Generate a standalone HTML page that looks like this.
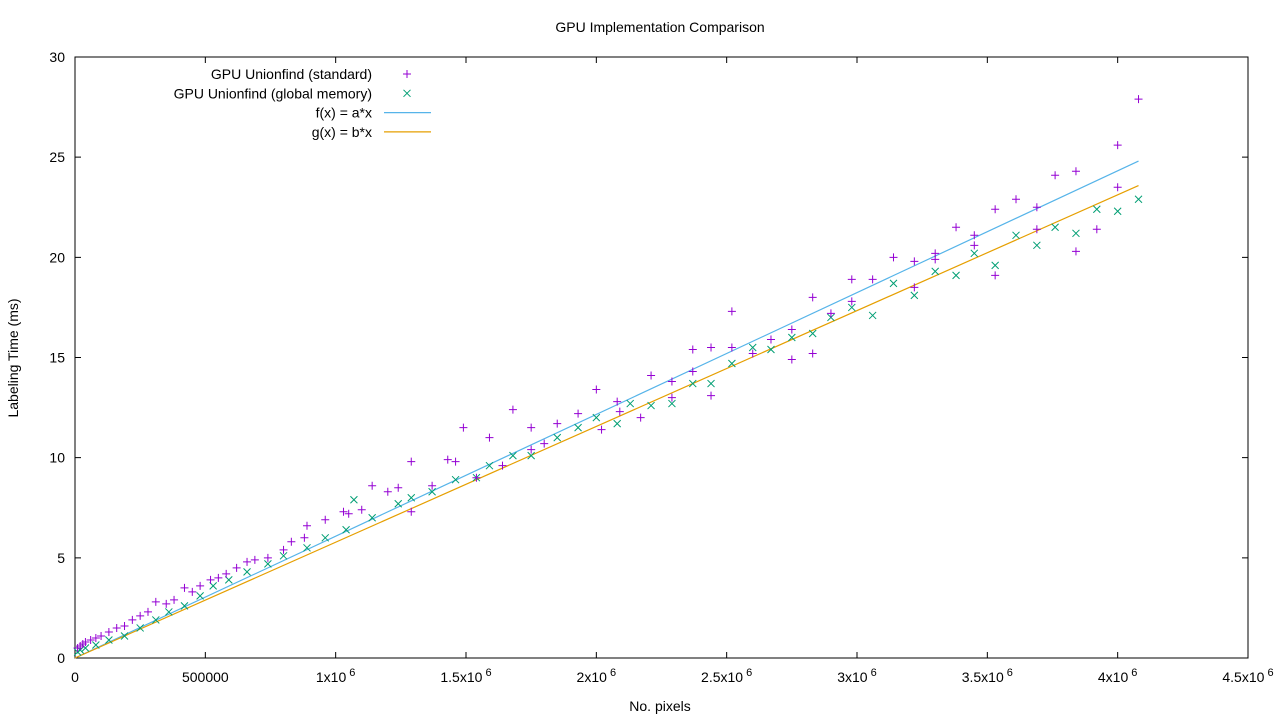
<!DOCTYPE html>
<html><head><meta charset="utf-8"><style>
body{margin:0;background:#fff}
svg{display:block;font-family:"Liberation Sans",Arial,sans-serif;font-size:14px}
</style></head><body>
<svg id="chart" width="1280" height="720" viewBox="0 0 1280 720">
<rect width="1280" height="720" fill="#fff"/>
<text x="660" y="32" text-anchor="middle">GPU Implementation Comparison</text>
<text transform="translate(18,358) rotate(-90)" text-anchor="middle">Labeling Time (ms)</text>
<text x="660" y="711" text-anchor="middle">No. pixels</text>
<g id="axes"></g>
<g id="marks"></g>
<g id="legend"></g>
</svg>
<script>
const xTicks=[0,0.5,1,1.5,2,2.5,3,3.5,4,4.5];
const xTickLabels=["0","500000","1x10","1.5x10","2x10","2.5x10","3x10","3.5x10","4x10","4.5x10"];
const yTicks=[0,5,10,15,20,25,30];
const yTickLabels=["0","5","10","15","20","25","30"];
// x in millions of pixels, y in ms
const stdX=[4.08,4.00,4.00,3.92,3.84,3.84,3.76,3.69,3.69,3.61,3.53,3.53,3.45,3.45,3.38,3.30,3.30,3.22,3.22,3.14,3.06,2.98,2.98,2.90,2.83,2.83,2.75,2.75,2.67,2.60,2.52,2.52,2.44,2.44,2.37,2.37,2.29,2.29,2.21,2.17,2.09,2.08,2.02,2.00,1.93,1.85,1.80,1.75,1.75,1.68,1.64,1.59,1.54,1.49,1.46,1.43,1.37,1.29,1.29,1.24,1.20,1.14,1.10,1.05,1.03,0.96,0.89,0.88,0.83,0.80,0.74,0.69,0.66,0.62,0.58,0.55,0.52,0.48,0.45,0.42,0.38,0.35,0.31,0.28,0.25,0.22,0.19,0.16,0.13,0.10,0.08,0.06,0.04,0.03,0.02,0.01];
const stdY=[27.9,25.6,23.5,21.4,24.3,20.3,24.1,22.5,21.4,22.9,22.4,19.1,21.1,20.6,21.5,20.2,19.9,19.8,18.5,20.0,18.9,18.9,17.8,17.2,18.0,15.2,16.4,14.9,15.9,15.2,17.3,15.5,15.5,13.1,14.3,15.4,13.8,13.0,14.1,12.0,12.3,12.8,11.4,13.4,12.2,11.7,10.7,10.4,11.5,12.4,9.6,11.0,9.0,11.5,9.8,9.9,8.6,9.8,7.3,8.5,8.3,8.6,7.4,7.2,7.3,6.9,6.6,6.0,5.8,5.4,5.0,4.9,4.8,4.5,4.2,4.0,3.9,3.6,3.3,3.5,2.9,2.7,2.8,2.3,2.1,1.9,1.6,1.5,1.3,1.1,1.0,0.9,0.8,0.7,0.6,0.5];
const glbX=[4.08,4.00,3.92,3.84,3.76,3.69,3.61,3.53,3.45,3.38,3.30,3.22,3.14,3.06,2.98,2.90,2.83,2.75,2.67,2.60,2.52,2.44,2.37,2.29,2.21,2.13,2.08,2.00,1.93,1.85,1.75,1.68,1.59,1.54,1.46,1.37,1.29,1.24,1.14,1.07,1.04,0.96,0.89,0.80,0.74,0.66,0.59,0.53,0.48,0.42,0.36,0.31,0.25,0.19,0.13,0.08,0.04,0.02,0.01];
const glbY=[22.9,22.3,22.4,21.2,21.5,20.6,21.1,19.6,20.2,19.1,19.3,18.1,18.7,17.1,17.5,17.0,16.2,16.0,15.4,15.5,14.7,13.7,13.7,12.7,12.6,12.7,11.7,12.0,11.5,11.0,10.1,10.1,9.6,9.0,8.9,8.3,8.0,7.7,7.0,7.9,6.4,6.0,5.5,5.1,4.7,4.3,3.9,3.6,3.1,2.6,2.3,1.9,1.5,1.1,0.9,0.65,0.5,0.4,0.3];
const coefA=6.08, coefB=5.78, fitMax=4.08;

const NS="http://www.w3.org/2000/svg";
const L=75,R=1248,T=57,B=658;
const sx=v=>L+v/4.5*(R-L);
const sy=v=>B-v/30*(B-T);
function mk(tag,attrs,parent){const e=document.createElementNS(NS,tag);for(const k in attrs)e.setAttribute(k,attrs[k]);parent.appendChild(e);return e;}
const axes=document.getElementById('axes'),marks=document.getElementById('marks'),leg=document.getElementById('legend');
const frame=mk('rect',{x:L,y:T,width:R-L,height:B-T,fill:'none',stroke:'#000','stroke-width':1},axes);


xTicks.forEach((t,i)=>{
 const x=sx(t);
 const tk=mk('path',{d:`M${x},${B}v-6M${x},${T}v6`,stroke:'#000'},axes);
 
 
 const tx=mk('text',{x:x,y:682,'text-anchor':'middle'},axes);
 
 
 tx.textContent=xTickLabels[i];
 if(i>=2){const s=mk('tspan',{dy:-6,'font-size':11},tx);s.textContent=' 6';}
});
yTicks.forEach((t,i)=>{
 const y=sy(t);
 const tk=mk('path',{d:`M${L},${y}h6M${R},${y}h-6`,stroke:'#000'},axes);
 
 
 const tx=mk('text',{x:L-10,y:y+5,'text-anchor':'end'},axes);
 
 
 tx.textContent=yTickLabels[i];
});
function plus(x,y,c,p){return mk('path',{d:`M${x-4},${y}h8M${x},${y-4}v8`,stroke:c,'stroke-width':1,fill:'none'},p);}
function cross(x,y,c,p){return mk('path',{d:`M${x-3.5},${y-3.5}l7,7M${x-3.5},${y+3.5}l7,-7`,stroke:c,'stroke-width':1,fill:'none'},p);}
const fa=mk('line',{x1:sx(0),y1:sy(0),x2:sx(fitMax),y2:sy(coefA*fitMax),stroke:'#56b4e9','stroke-width':1.2},marks);


const fb=mk('line',{x1:sx(0),y1:sy(0),x2:sx(fitMax),y2:sy(coefB*fitMax),stroke:'#e69f00','stroke-width':1.2},marks);


glbX.forEach((v,i)=>{const e=cross(sx(v),sy(glbY[i]),'#009e73',marks);
 
 });
stdX.forEach((v,i)=>{const e=plus(sx(v),sy(stdY[i]),'#9400d3',marks);
 
 });
const names=["GPU Unionfind (standard)","GPU Unionfind (global memory)","f(x) = a*x","g(x) = b*x"];
names.forEach((n,i)=>{
 const y=74+i*19.3;
 const t=mk('text',{x:372,y:y+5,'text-anchor':'end'},leg);
 
 
 t.textContent=n;
 let s;
 if(i==0)s=plus(407,y,'#9400d3',leg);
 else if(i==1)s=cross(407,y,'#009e73',leg);
 else s=mk('line',{x1:384,y1:y,x2:431,y2:y,stroke:i==2?'#56b4e9':'#e69f00','stroke-width':1.2},leg);
 
 
});
</script>
</body></html>
